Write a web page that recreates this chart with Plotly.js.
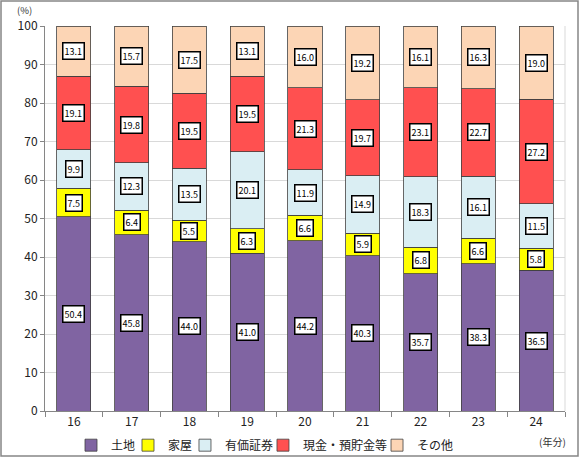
<!DOCTYPE html>
<html>
<head>
<meta charset="utf-8">
<script src="https://cdn.plot.ly/plotly-3.0.1.min.js"></script>
<style>html,body{margin:0;padding:0;background:#fff;}#chart{width:580px;height:458px;}</style>
</head>
<body>
<div id="chart"></div>
<script>
const categories = ['16','17','18','19','20','21','22','23','24'];
const land     = [50.4, 45.8, 44.0, 41.0, 44.2, 40.3, 35.7, 38.3, 36.5];
const house    = [7.5, 6.4, 5.5, 6.3, 6.6, 5.9, 6.8, 6.6, 5.8];
const secur    = [9.9, 12.3, 13.5, 20.1, 11.9, 14.9, 18.3, 16.1, 11.5];
const cash     = [19.1, 19.8, 19.5, 19.5, 21.3, 19.7, 23.1, 22.7, 27.2];
const other    = [13.1, 15.7, 17.5, 13.1, 16.0, 19.2, 16.1, 16.3, 19.0];
const seriesNames = ['土地', '家屋', '有価証券', '現金・預貯金等', 'その他'];
const yTicks = [0,10,20,30,40,50,60,70,80,90,100];

const seriesData = [land, house, secur, cash, other];
const colors = ['#8064A2', '#FFFF00', '#DAEEF3', '#FF5050', '#FCD5B5'];
const FONT = '"Noto Sans CJK JP", "DejaVu Sans", sans-serif';
const legendX = [0.05, 0.1596, 0.2692, 0.4192, 0.6385];

const traces = seriesData.map((vals, i) => ({
  type: 'bar',
  name: seriesNames[i],
  x: categories,
  y: vals,
  legend: i === 0 ? 'legend' : 'legend' + (i + 1),
  marker: {color: colors[i], line: {color: '#404040', width: 0.8}},
  hoverinfo: 'skip'
}));

const annotations = [];
categories.forEach((c, j) => {
  let base = 0;
  seriesData.forEach((vals) => {
    const v = vals[j];
    annotations.push({
      x: j, y: base + v / 2, xref: 'x', yref: 'y',
      text: v.toFixed(1), showarrow: false,
      font: {family: FONT, size: 9, color: '#000'},
      bgcolor: '#fff', bordercolor: '#000', borderwidth: 1.5, borderpad: 1
    });
    base += v;
  });
});
annotations.push({xref: 'paper', yref: 'paper', x: -0.04, y: 1.0416, xanchor: 'center', yanchor: 'middle',
  text: '(%)', showarrow: false, font: {family: FONT, size: 9.5, color: '#333'}});
annotations.push({xref: 'paper', yref: 'paper', x: 0.975, y: -0.078, xanchor: 'center', yanchor: 'middle',
  text: '(年分)', showarrow: false, font: {family: FONT, size: 10, color: '#333'}});

const layout = {
  width: 580, height: 458,
  margin: {l: 45, r: 15, t: 26, b: 47},
  barmode: 'stack',
  bargap: 0.41,
  paper_bgcolor: '#fff', plot_bgcolor: '#fff',
  font: {family: FONT, size: 12, color: '#222'},
  xaxis: {
    type: 'category', range: [-0.5, 8.5], tickson: 'boundaries', ticks: 'outside', ticklen: 5, tickcolor: '#868686',
    showline: true, linecolor: '#868686', linewidth: 1, showgrid: false, tickangle: 0, automargin: false,
    tickfont: {family: FONT, size: 12, color: '#222'}
  },
  yaxis: {
    range: [0, 100], tickvals: yTicks, ticks: 'outside', ticklen: 4, tickcolor: '#868686',
    showline: true, linecolor: '#868686', linewidth: 1, automargin: false,
    gridcolor: '#D9D9D9', gridwidth: 1, zeroline: false,
    tickfont: {family: FONT, size: 12, color: '#222'}
  },
  showlegend: true,
  annotations: annotations,
  shapes: [
    {type: 'line', xref: 'paper', yref: 'paper', x0: 1, x1: 1, y0: 0, y1: 1, line: {color: '#D9D9D9', width: 1}},
    {type: 'rect', xref: 'paper', yref: 'paper', x0: -0.0846, x1: 1.025, y0: -0.117, y1: 1.065,
     line: {color: '#868686', width: 1.5}, fillcolor: 'rgba(0,0,0,0)', layer: 'below'}
  ]
};
legendX.forEach((lx, i) => {
  const key = i === 0 ? 'legend' : 'legend' + (i + 1);
  layout[key] = {
    orientation: 'h', x: lx, y: 0.028, xref: 'paper', yref: 'container', xanchor: 'left', yanchor: 'middle',
    font: {family: FONT, size: 12, color: '#222'}, itemwidth: 30, bgcolor: 'rgba(0,0,0,0)', borderwidth: 0
  };
});

Plotly.newPlot('chart', traces, layout, {displayModeBar: false, staticPlot: true});
</script>
</body>
</html>
